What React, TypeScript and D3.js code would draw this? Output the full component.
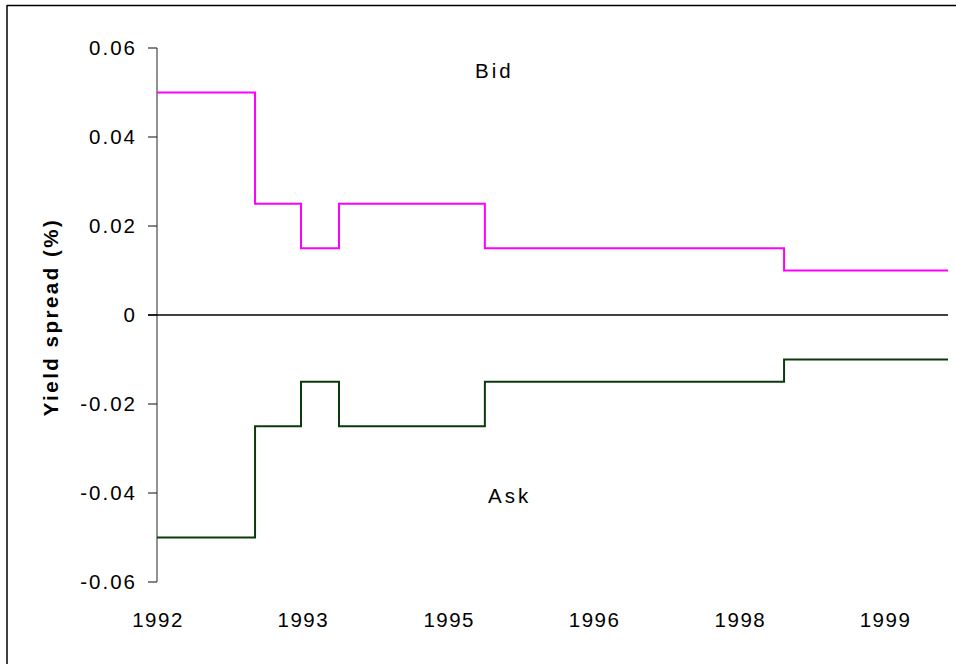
import React from "react";
import * as d3 from "d3";

const stepDates = ["1992-01-01", "1993-01-04", "1993-06-26", "1993-11-16", "1995-05-19", "1998-06-18", "2000-02-25"];
const bidValues = [0.05, 0.025, 0.015, 0.025, 0.015, 0.01, 0.01];
const askValues = [-0.05, -0.025, -0.015, -0.025, -0.015, -0.01, -0.01];
const xTickDates = ["1992-01-01", "1993-07-01", "1995-01-01", "1996-07-01", "1998-01-01", "1999-07-01"];
const yTicks = [0.06, 0.04, 0.02, 0, -0.02, -0.04, -0.06];

const W = 956;
const H = 664;
const FONT = "'Liberation Sans', Arial, sans-serif";

export default function App() {
  const parse = d3.utcParse("%Y-%m-%d");
  const dates = stepDates.map((s) => parse(s) as Date);
  const x = d3.scaleUtc().domain([dates[0], dates[dates.length - 1]]).range([157, 948]);
  const y = d3.scaleLinear().domain([-0.06, 0.06]).range([582, 48]);
  const line = d3
    .line<[Date, number]>()
    .x((d) => x(d[0]))
    .y((d) => y(d[1]))
    .curve(d3.curveStepAfter);
  const bid = dates.map((d, i) => [d, bidValues[i]] as [Date, number]);
  const ask = dates.map((d, i) => [d, askValues[i]] as [Date, number]);
  const fmtY = (v: number) => (v === 0 ? "0" : d3.format(".2f")(v).replace("−", "-"));
  const fmtX = d3.utcFormat("%Y");

  return (
    <div style={{ position: "absolute", left: 0, top: 0 }}>
      <svg width={W} height={H} style={{ display: "block", background: "#fff" }}>
        <line x1={7} y1={5.5} x2={W} y2={5.5} stroke="#000" strokeWidth={1.5} />
        <line x1={7} y1={5} x2={7} y2={H} stroke="#000" strokeWidth={1.5} />

        {/* y axis */}
        <line x1={157} y1={y(0.06)} x2={157} y2={y(-0.06)} stroke="#6e6e6e" strokeWidth={1.5} />
        {yTicks.map((t) => (
          <g key={t}>
            <line x1={148} x2={157} y1={y(t)} y2={y(t)} stroke="#333" strokeWidth={1.2} />
            <text
              x={137}
              y={y(t)}
              dy="0.36em"
              textAnchor="end"
              fontFamily={FONT}
              fontSize={20.5}
              letterSpacing={2}
              fill="#000"
            >
              {fmtY(t)}
            </text>
          </g>
        ))}

        {/* zero line */}
        <line x1={148} x2={948} y1={y(0)} y2={y(0)} stroke="#000" strokeWidth={1.5} />

        {/* x labels */}
        {xTickDates.map((s) => {
          const d = parse(s) as Date;
          return (
            <text
              key={s}
              x={x(d) + 1}
              y={627}
              textAnchor="middle"
              fontFamily={FONT}
              fontSize={20.5}
              letterSpacing={1.5}
              fill="#000"
            >
              {fmtX(d)}
            </text>
          );
        })}

        {/* series */}
        <path d={line(bid) || ""} fill="none" stroke="#ff00ff" strokeWidth={2} />
        <path d={line(ask) || ""} fill="none" stroke="#0b3b0b" strokeWidth={2} />

        <text x={475} y={78} fontFamily={FONT} fontSize={20.5} letterSpacing={3} fill="#000">
          Bid
        </text>
        <text x={488} y={503} fontFamily={FONT} fontSize={20.5} letterSpacing={3} fill="#000">
          Ask
        </text>

        <text
          transform={`translate(58,317) rotate(-90)`}
          textAnchor="middle"
          fontFamily={FONT}
          fontSize={20.5}
          fontWeight="bold"
          letterSpacing={2.5}
          fill="#000"
        >
          Yield spread (%)
        </text>
      </svg>
    </div>
  );
}
